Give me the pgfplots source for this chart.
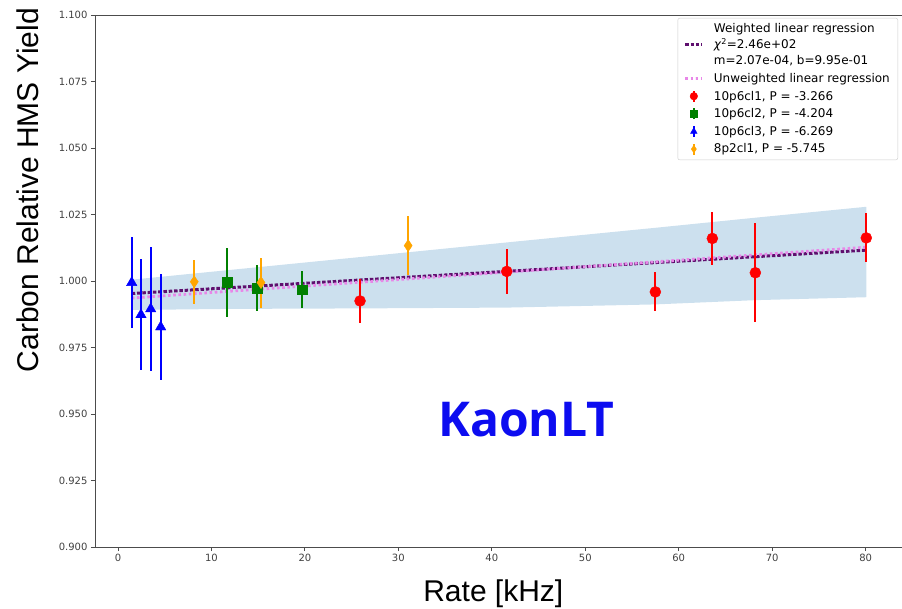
\documentclass[border=0pt]{standalone}
\usepackage{fontspec}
\setmainfont{DejaVu Sans}
\newfontfamily\arialfont{Liberation Sans}
\newfontfamily\kaonfont{Open Sans}
\usepackage{pgfplots}
\pgfplotsset{compat=1.18}

\definecolor{bandblue}{RGB}{204,224,238}
\definecolor{wline}{RGB}{95,15,110}
\definecolor{uline}{RGB}{232,135,232}
\definecolor{mplorange}{RGB}{255,165,0}
\definecolor{mplgreen}{RGB}{0,128,0}
\definecolor{kaonblue}{RGB}{12,12,240}

\pgfplotsset{
  ebar/.style={
    only marks, color=#1,
    /pgfplots/error bars/y dir=both,
    /pgfplots/error bars/y explicit,
    /pgfplots/error bars/error mark=none,
    /pgfplots/error bars/error bar style={line width=2pt, #1},
  },
  ebar legend/.style={
    legend image code/.code={
      \draw[##1, mark=none, line width=2pt] (0.3cm,-0.55em) -- (0.3cm,0.55em);
      \draw[##1, only marks, mark size=3.8pt] plot coordinates {(0.3cm,0cm)};
    },
  },
}

\begin{document}
\begin{tikzpicture}
\path[use as bounding box] (-95pt,-61pt) rectangle (807pt,547pt);
\begin{axis}[
  at={(0pt,0pt)}, anchor=south west,
  scale only axis, width=808pt, height=532pt,
  xmin=-2.46, xmax=84.0, ymin=0.9, ymax=1.1,
  xtick={0,10,20,30,40,50,60,70,80},
  ytick={0.9,0.925,0.95,0.975,1.0,1.025,1.05,1.075,1.1},
  tick pos=left, tick align=outside,
  major tick length=4pt,
  tick style={black!70, line width=0.8pt},
  axis line style={black!70, line width=0.9pt},
  ticklabel style={font=\fontsize{10}{12}\selectfont, text=black!75},
  /pgf/number format/assume math mode=true,
  yticklabel style={/pgf/number format/.cd, fixed, fixed zerofill, precision=3},
  xlabel={Rate [kHz]},
  ylabel={Carbon Relative HMS Yield},
  xlabel style={font=\arialfont\fontsize{30}{36}\selectfont,
    at={(axis description cs:0.493,-0.088)}, anchor=center},
  ylabel style={font=\arialfont\fontsize{30}{36}\selectfont,
    at={(axis description cs:-0.083,0.671)}, anchor=center},
  legend cell align=left,
  legend style={at={(axis description cs:0.9938,0.9944)}, anchor=north east,
    draw=black!20, rounded corners=2pt, fill=white,
    font=\fontsize{12}{16}\selectfont, row sep=3pt,
    cells={align=left},
    /tikz/every odd column/.append style={column sep=8pt},
    inner xsep=6pt, inner ysep=3.5pt},
]
% confidence band
\addplot[fill=bandblue, draw=none, forget plot] coordinates {
  (1.47,1.0005) (25.9,1.0090) (41.6,1.0145) (57.5,1.0200) (68.2,1.0238) (80.07,1.0279)
  (80.07,0.9939) (68.2,0.9928) (57.5,0.9912) (41.6,0.9900) (25.9,0.9897) (11.66,0.9895) (1.47,0.9891)
};

% regressions
\addplot[wline, line width=3pt, dash pattern=on 3.5pt off 1.8pt] coordinates {
  (1.47,0.9953) (80.07,1.0116)
};
\addlegendentry{Weighted linear regression\\ \textit{χ}\textsuperscript{2}=2.46e+02\\ m=2.07e-04, b=9.95e-01}
\addplot[uline, line width=2.8pt, dash pattern=on 2.6pt off 2.6pt] coordinates {
  (1.47,0.9936) (80.07,1.0127)
};
\addlegendentry{Unweighted linear regression}

% data
\addplot[ebar legend, mark=*, mark size=5.5pt, ebar=red] coordinates {
  (25.9,0.9925) +- (0,0.0082)
  (41.6,1.0036) +- (0,0.0085)
  (57.5,0.9959) +- (0,0.0073)
  (63.6,1.0160) +- (0,0.0101)
  (68.2,1.0031) +- (0,0.0186)
  (80.07,1.0162) +- (0,0.0092)
};
\addlegendentry{10p6cl1, P = -3.266}
\addplot[ebar legend, mark=square*, mark size=4.8pt, ebar=mplgreen] coordinates {
  (11.66,0.9995) +- (0,0.0130)
  (14.9,0.9974) +- (0,0.0085)
  (19.7,0.9968) +- (0,0.0069)
};
\addlegendentry{10p6cl2, P = -4.204}
\addplot[ebar legend, mark=triangle*, mark size=6pt, ebar=blue] coordinates {
  (1.47,0.9994) +- (0,0.0172)
  (2.46,0.9873) +- (0,0.0208)
  (3.50,0.9895) +- (0,0.0232)
  (4.57,0.9827) +- (0,0.0199)
};
\addlegendentry{10p6cl3, P = -6.269}
\addplot[ebar legend, mark=diamond*, mark size=6pt, mark options={xscale=0.9}, ebar=mplorange] coordinates {
  (8.16,0.9997) +- (0,0.0083)
  (15.3,0.9994) +- (0,0.0094)
  (31.05,1.0133) +- (0,0.0110)
};
\addlegendentry{8p2cl1, P = -5.745}

\node[font=\kaonfont\bfseries\fontsize{48}{58}\selectfont, text=kaonblue, anchor=base]
  at (axis cs:43.7,0.9414) {KaonLT};
\end{axis}
\end{tikzpicture}
\end{document}
